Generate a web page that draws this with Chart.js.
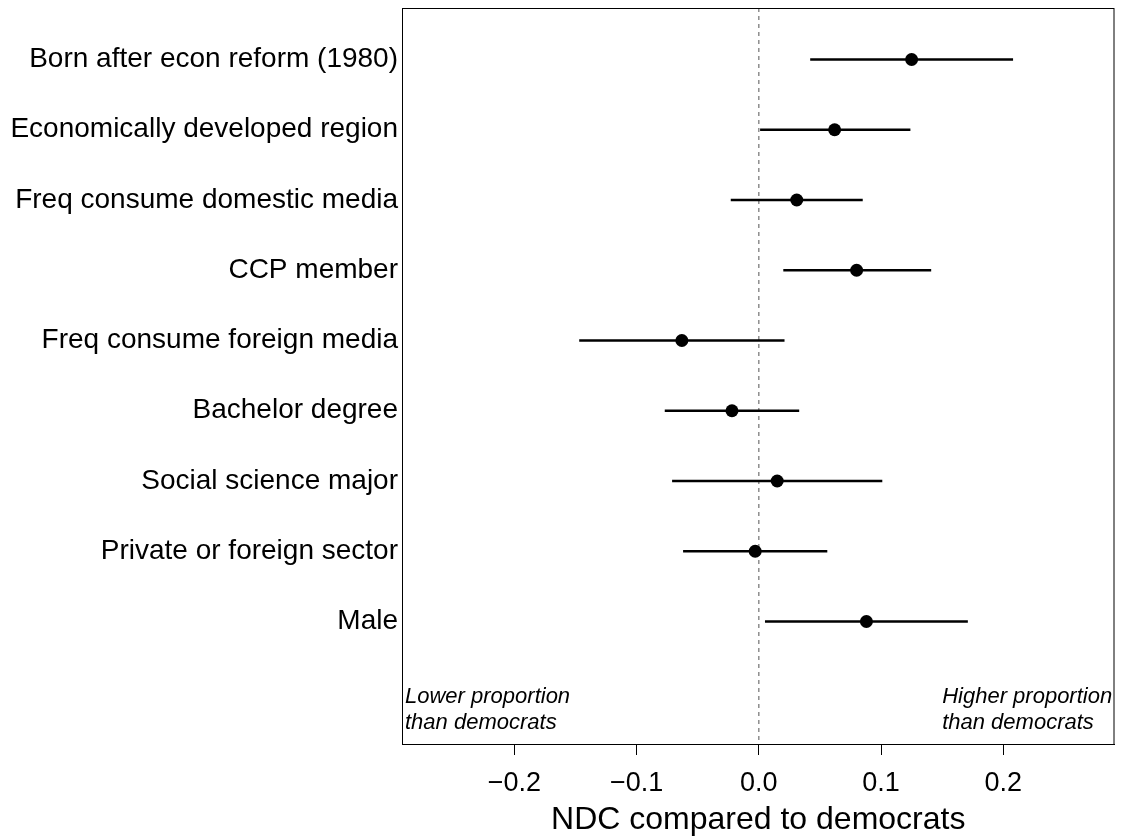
<!DOCTYPE html>
<html>
<head>
<meta charset="utf-8">
<script src="https://cdn.jsdelivr.net/npm/chart.js@4/dist/chart.umd.min.js"></script>
<style>
  body { margin: 0; background: #fff; }
  canvas { display: block; }
</style>
</head>
<body>
<canvas id="ndc-chart" width="1121" height="839"></canvas>
<script>
// Data
const labels = [
    'Born after econ reform (1980)',
    'Economically developed region',
    'Freq consume domestic media',
    'CCP member',
    'Freq consume foreign media',
    'Bachelor degree',
    'Social science major',
    'Private or foreign sector',
    'Male'
];
const estimates = [0.125, 0.062, 0.031, 0.080, -0.063, -0.022, 0.015, -0.003, 0.088];
const lowerCI = [0.042, 0.001, -0.023, 0.020, -0.147, -0.077, -0.071, -0.062, 0.005];
const upperCI = [0.208, 0.124, 0.085, 0.141, 0.021, 0.033, 0.101, 0.056, 0.171];
const xTicks = [-0.2, -0.1, 0.0, 0.1, 0.2];
const rowPositions = labels.map((_, i) => i + 1);

const FONT = "'Liberation Sans', Arial, Helvetica, sans-serif";

// Garis interval kepercayaan, satu dataset per baris
const ciDatasets = labels.map((label, i) => ({
    type: 'line',
    label: label,
    data: [{ x: lowerCI[i], y: rowPositions[i] }, { x: upperCI[i], y: rowPositions[i] }],
    borderColor: '#000',
    borderWidth: 2.5,
    pointRadius: 0,
    order: 2
}));

// Plugin: kotak, garis putus-putus di nol, dan teks keterangan
const decorPlugin = {
    id: 'decor',
    beforeDatasetsDraw(chart) {
        const { ctx, chartArea, scales } = chart;
        const x0 = scales.x.getPixelForValue(0);
        ctx.save();
        ctx.strokeStyle = '#555';
        ctx.lineWidth = 1;
        ctx.setLineDash([4, 4]);
        ctx.beginPath();
        ctx.moveTo(x0, chartArea.top);
        ctx.lineTo(x0, chartArea.bottom);
        ctx.stroke();
        ctx.restore();
    },
    afterDraw(chart) {
        const { ctx, chartArea, scales } = chart;
        ctx.save();
        ctx.strokeStyle = '#000';
        ctx.lineWidth = 1;
        ctx.strokeRect(chartArea.left + 0.5, chartArea.top + 0.5,
            chartArea.right - chartArea.left - 1, chartArea.bottom - chartArea.top);

        ctx.fillStyle = '#000';
        ctx.font = 'italic 22px ' + FONT;
        ctx.textAlign = 'left';
        ctx.textBaseline = 'middle';
        const yTop = scales.y.getPixelForValue(10.08);
        const yBot = scales.y.getPixelForValue(10.44);
        const xLeft = chartArea.left + 3;
        ctx.fillText('Lower proportion', xLeft, yTop);
        ctx.fillText('than democrats', xLeft, yBot);
        const xRight = scales.x.getPixelForValue(0.15);
        ctx.fillText('Higher proportion', xRight, yTop);
        ctx.fillText('than democrats', xRight, yBot);
        ctx.restore();
    }
};

const ctx = document.getElementById('ndc-chart').getContext('2d');
new Chart(ctx, {
    type: 'scatter',
    data: {
        datasets: [
            {
                label: 'Estimate',
                data: estimates.map((v, i) => ({ x: v, y: rowPositions[i] })),
                backgroundColor: '#000',
                borderWidth: 0,
                pointRadius: 6.5,
                order: 1
            },
            ...ciDatasets
        ]
    },
    options: {
        responsive: false,
        animation: false,
        devicePixelRatio: 1,
        layout: { padding: { top: 8, right: -2, left: 0, bottom: 0 } },
        scales: {
            x: {
                type: 'linear',
                min: -0.292,
                max: 0.291,
                afterFit(scale) {
                    scale.height = 95;
                    scale.paddingLeft = 0;
                    scale.paddingRight = 0;
                },
                afterBuildTicks(scale) { scale.ticks = xTicks.map(v => ({ value: v })); },
                grid: {
                    drawOnChartArea: false,
                    drawTicks: true,
                    tickLength: 11,
                    color: '#000'
                },
                border: { display: true, color: '#000' },
                ticks: {
                    color: '#000',
                    padding: 12,
                    maxRotation: 0,
                    font: { family: FONT, size: 27 },
                    callback: v => v.toFixed(1).replace('-', '\u2212')
                },
                title: {
                    display: true,
                    text: 'NDC compared to democrats',
                    color: '#000',
                    padding: { top: 0, bottom: 0 },
                    font: { family: FONT, size: 32 }
                }
            },
            y: {
                type: 'linear',
                reverse: true,
                min: 0.267,
                max: 10.744,
                afterFit(scale) {
                    scale.width = 402;
                    scale.paddingTop = 0;
                    scale.paddingBottom = 0;
                },
                afterBuildTicks(scale) { scale.ticks = rowPositions.map(v => ({ value: v })); },
                grid: { display: false, drawTicks: false },
                border: { display: false },
                ticks: {
                    color: '#000',
                    padding: 4,
                    font: { family: FONT, size: 28 },
                    callback: v => labels[v - 1]
                }
            }
        },
        plugins: {
            legend: { display: false },
            tooltip: { enabled: false }
        }
    },
    plugins: [decorPlugin]
});
</script>
</body>
</html>
